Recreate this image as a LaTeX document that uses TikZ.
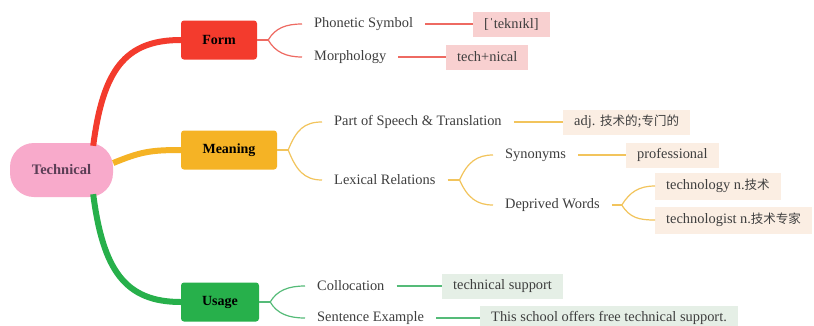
\documentclass[tikz,border=0pt]{standalone}
\usepackage{fontspec}
\setmainfont{Liberation Serif}
\newfontfamily\cjk{Noto Sans CJK SC}
\usetikzlibrary{calc}
\definecolor{formred}{HTML}{F33B2D}
\definecolor{meanorange}{HTML}{F5B325}
\definecolor{usegreen}{HTML}{27B04B}
\definecolor{rootpink}{HTML}{F8AACB}
\definecolor{roottext}{HTML}{5A3E55}
\definecolor{formthin}{HTML}{EE6A62}
\definecolor{meanthin}{HTML}{F2C45C}
\definecolor{usethin}{HTML}{55BB78}
\definecolor{formleaf}{HTML}{F8D0D0}
\definecolor{meanleaf}{HTML}{FBEEE3}
\definecolor{useleaf}{HTML}{E5EFE6}
\definecolor{txtgray}{HTML}{3E3E3E}
\newcommand\zh[1]{{\cjk\fontsize{12.5}{15}\selectfont #1}}
\begin{document}
\begin{tikzpicture}[x=1pt,y=-1pt,
  mainbox/.style={rounded corners=3pt, minimum height=39pt, inner sep=0pt,
    font=\fontsize{14}{16}\selectfont\bfseries, text=black},
  lbl/.style={anchor=west, inner xsep=12pt, inner ysep=2pt,
    font=\fontsize{14.4}{17}\selectfont, text=txtgray},
  leaf/.style={anchor=west, inner xsep=11pt, inner ysep=0pt, minimum height=25pt,
    font=\fontsize{14.4}{17}\selectfont, text=txtgray},
  fthin/.style={draw=formthin, line width=1.2pt},
  mthin/.style={draw=meanthin, line width=1.2pt},
  uthin/.style={draw=usethin, line width=1.2pt}]
\useasboundingbox[fill=white] (0,0) rectangle (814,325);

% root and main boxes
\node[rounded corners=24pt, fill=rootpink, minimum width=103pt, minimum height=54pt,
  inner sep=0pt, font=\fontsize{14.5}{16}\selectfont\bfseries, text=roottext] (root) at (61.5,170) {Technical};
\node[mainbox, fill=formred, minimum width=76pt] (form) at (219,40) {Form};
\node[mainbox, fill=meanorange, minimum width=96pt] (meaning) at (229,150) {Meaning};
\node[mainbox, fill=usegreen, minimum width=78pt] (usage) at (220,302) {Usage};

% main connectors
\draw[formred, line width=6pt] ($(root.north east)+(-20,3)$) .. controls (103,70) and (125,40) .. (form.west);
\draw[meanorange, line width=6pt] ($(root.east)+(0,-7)$) .. controls (140,152) and (150,150) .. (meaning.west);
\draw[usegreen, line width=6pt] ($(root.south east)+(-20,-3)$) .. controls (103,270) and (125,302) .. (usage.west);

% Form branch
\node[lbl] (phon) at (302,24) {Phonetic Symbol};
\node[lbl] (morph) at (302,57) {Morphology};
\node[leaf, fill=formleaf] (phonbox) at (473,24) {[ˈteknɪkl]};
\node[leaf, fill=formleaf] (morphbox) at (446,57) {tech+nical};
\coordinate (fj) at ($(form.east)+(11,0)$);
\draw[fthin] (form.east) -- (fj);
\draw[fthin] (fj) .. controls +(7,-12) and +(-16,0) .. (phon.west);
\draw[fthin] (fj) .. controls +(7,12) and +(-16,0) .. (morph.west);
\draw[fthin] (phon.east) -- (phonbox.west);
\draw[fthin] (morph.east) -- (morphbox.west);

% Meaning branch
\node[lbl] (pos) at (322,122) {Part of Speech \& Translation};
\node[lbl] (lex) at (322,180) {Lexical Relations};
\node[leaf, fill=meanleaf] (posbox) at (563,122) {adj. \zh{技术的};\zh{专门的}};
\coordinate (mj) at ($(meaning.east)+(11,0)$);
\draw[mthin] (meaning.east) -- (mj);
\draw[mthin] (mj) .. controls +(8,-20) and +(-18,0) .. (pos.west);
\draw[mthin] (mj) .. controls +(8,20) and +(-18,0) .. (lex.west);
\draw[mthin] (pos.east) -- (posbox.west);

\node[lbl] (syn) at (493,155) {Synonyms};
\node[lbl] (der) at (493,205) {Deprived Words};
\node[leaf, fill=meanleaf] (synbox) at (626,155) {professional};
\coordinate (lj) at ($(lex.east)+(12,0)$);
\draw[mthin] (lex.east) -- (lj);
\draw[mthin] (lj) .. controls +(8,-18) and +(-16,0) .. (syn.west);
\draw[mthin] (lj) .. controls +(8,18) and +(-16,0) .. (der.west);
\draw[mthin] (syn.east) -- (synbox.west);

\node[leaf, fill=meanleaf, minimum height=27pt] (tgy) at (655,186) {technology n.\zh{技术}};
\node[leaf, fill=meanleaf, minimum height=27pt] (tgist) at (655,220) {technologist n.\zh{技术专家}};
\coordinate (dj) at ($(der.east)+(10,0)$);
\draw[mthin] (der.east) -- (dj);
\draw[mthin] (dj) .. controls +(8,-13) and +(-16,0) .. (tgy.west);
\draw[mthin] (dj) .. controls +(8,13) and +(-16,0) .. (tgist.west);

% Usage branch
\node[lbl] (coll) at (305,286) {Collocation};
\node[lbl] (sent) at (305,318) {Sentence Example};
\node[leaf, fill=useleaf] (collbox) at (442,286) {technical support};
\node[leaf, fill=useleaf] (sentbox) at (480,318) {This school offers free technical support.};
\coordinate (uj) at ($(usage.east)+(11,0)$);
\draw[uthin] (usage.east) -- (uj);
\draw[uthin] (uj) .. controls +(7,-12) and +(-16,0) .. (coll.west);
\draw[uthin] (uj) .. controls +(7,12) and +(-16,0) .. (sent.west);
\draw[uthin] (coll.east) -- (collbox.west);
\draw[uthin] (sent.east) -- (sentbox.west);
\end{tikzpicture}
\end{document}
